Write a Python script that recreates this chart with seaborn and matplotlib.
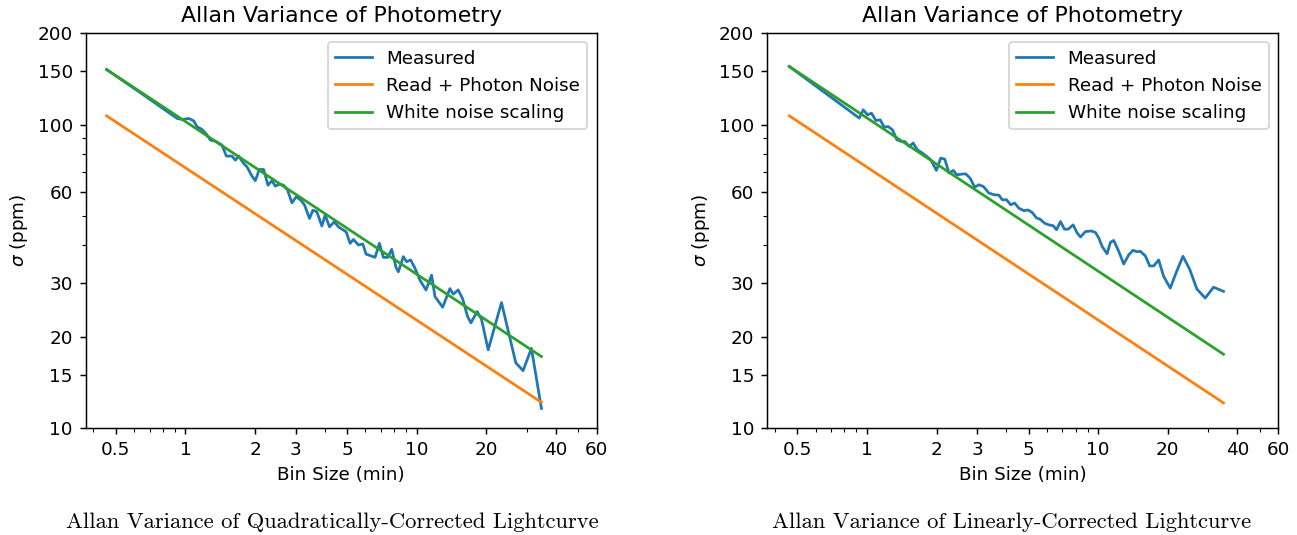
import numpy as np
import pandas as pd
import seaborn as sns
import matplotlib.pyplot as plt
from matplotlib.ticker import FixedLocator, FuncFormatter, NullFormatter

# bin sizes (min) and measured sigma (ppm), quadratic correction
quad_bins = [0.456, 0.639, 0.921, 0.967, 1.034, 1.086, 1.123, 1.180, 1.232, 1.282,
             1.347, 1.440, 1.503, 1.590, 1.644, 1.699, 1.785, 1.845, 1.940, 2.005,
             2.086, 2.178, 2.275, 2.366, 2.446, 2.554, 2.657, 2.765, 2.887, 3.014,
             3.157, 3.273, 3.440, 3.556, 3.700, 3.889, 4.020, 4.197, 4.397, 4.590,
             4.954, 5.154, 5.328, 5.600, 5.846, 6.043, 6.607, 6.898, 7.178, 7.494,
             7.798, 8.141, 8.331, 8.756, 9.051, 9.419, 9.833, 10.33, 10.97, 11.60,
             12.00, 12.95, 13.92, 14.39, 15.12, 15.79, 16.60, 17.16, 18.27, 19.07,
             20.38, 23.27, 26.83, 28.85, 31.35, 34.63]
quad_sigma = [151.8, 127.2, 104.7, 103.9, 104.7, 102.8, 98.3, 96.3, 93.0, 88.8,
              88.2, 85.5, 78.7, 78.7, 76.3, 78.7, 74.4, 72.6, 67.6, 65.3,
              71.1, 71.1, 63.1, 65.3, 62.7, 63.6, 63.1, 60.8, 55.2, 57.8,
              56.3, 54.3, 49.0, 52.2, 51.6, 46.3, 50.3, 46.0, 47.8, 46.0,
              44.3, 40.6, 41.8, 40.1, 40.4, 37.4, 36.5, 40.6, 36.5, 36.5,
              38.8, 33.8, 32.7, 36.7, 35.3, 35.8, 33.6, 30.7, 28.5, 31.9,
              27.1, 25.0, 28.8, 27.6, 28.5, 26.7, 23.3, 22.2, 24.2, 22.8,
              18.1, 25.9, 16.4, 15.45, 18.3, 11.6]

# linear correction
lin_bins = [0.462, 0.927, 0.964, 1.007, 1.047, 1.093, 1.142, 1.188, 1.236, 1.291,
            1.347, 1.411, 1.459, 1.523, 1.585, 1.654, 1.739, 1.815, 1.889, 1.998,
            2.086, 2.171, 2.266, 2.366, 2.446, 2.562, 2.675, 2.793, 2.925, 3.053,
            3.188, 3.373, 3.544, 3.725, 3.851, 4.020, 4.183, 4.353, 4.545, 4.775,
            4.969, 5.188, 5.416, 5.600, 5.866, 6.124, 6.394, 6.607, 6.876, 7.154,
            7.420, 7.798, 8.115, 8.388, 8.814, 9.325, 9.736, 10.06, 10.40, 10.93,
            11.30, 11.68, 12.28, 12.90, 13.56, 14.16, 14.73, 15.23, 16.00, 16.71,
            17.39, 18.27, 19.20, 20.51, 21.78, 23.27, 24.86, 26.74, 29.05, 31.55,
            34.85]
lin_sigma = [155.3, 105.0, 111.8, 107.6, 109.0, 103.1, 103.6, 98.0, 98.5, 96.0,
             89.1, 87.9, 87.9, 84.7, 86.9, 82.5, 80.5, 78.5, 76.5, 70.6,
             77.5, 76.9, 69.2, 70.6, 68.3, 68.6, 68.8, 66.6, 62.2, 63.3,
             62.5, 59.4, 58.7, 58.5, 56.5, 56.5, 54.4, 55.1, 53.0, 52.0,
             52.3, 51.3, 49.2, 48.8, 47.3, 46.7, 46.4, 45.0, 47.9, 45.2,
             45.2, 46.7, 43.9, 42.6, 44.4, 44.6, 44.1, 42.3, 39.7, 37.5,
             40.9, 41.5, 38.2, 34.7, 37.2, 38.5, 38.1, 38.2, 36.9, 34.2,
             34.2, 35.8, 31.6, 28.9, 32.6, 36.8, 33.4, 28.7, 26.8, 29.1,
             28.2]

# model lines (end points)
quad_model_bins = [0.456, 34.63]
quad_photon = [106.8, 12.15]
quad_white = [151.8, 17.2]
lin_model_bins = [0.462, 34.85]
lin_photon = [106.8, 12.1]
lin_white = [155.3, 17.5]

captions = ["Allan Variance of Quadratically-Corrected Lightcurve",
            "Allan Variance of Linearly-Corrected Lightcurve"]
x_ticks = [0.5, 1, 2, 3, 5, 10, 20, 40, 60]
y_ticks = [10, 15, 20, 30, 60, 100, 150, 200]

panels = [
    (quad_bins, quad_sigma, quad_model_bins, quad_photon, quad_white),
    (lin_bins, lin_sigma, lin_model_bins, lin_photon, lin_white),
]

dpi = 132
fig = plt.figure(figsize=(1297 / dpi, 535 / dpi), dpi=dpi)
lefts = [0.066, 0.5914]
caption_x = [0.256, 0.780]
plain = FuncFormatter(lambda v, pos: "{:g}".format(v))

for i, (bins, sigma, mbins, photon, white) in enumerate(panels):
    ax = fig.add_axes([lefts[i], 0.2, 0.394, 0.738])
    meas = pd.DataFrame({"bin": bins, "sigma": sigma})
    sns.lineplot(data=meas, x="bin", y="sigma", ax=ax, color="C0",
                 estimator=None, label="Measured")
    sns.lineplot(x=mbins, y=photon, ax=ax, color="C1", label="Read + Photon Noise")
    sns.lineplot(x=mbins, y=white, ax=ax, color="C2", label="White noise scaling")
    ax.set_xscale("log")
    ax.set_yscale("log")
    ax.set_xlim(0.37, 60)
    ax.set_ylim(10, 200)
    ax.xaxis.set_major_locator(FixedLocator(x_ticks))
    ax.yaxis.set_major_locator(FixedLocator(y_ticks))
    ax.xaxis.set_major_formatter(plain)
    ax.yaxis.set_major_formatter(plain)
    ax.xaxis.set_minor_formatter(NullFormatter())
    ax.yaxis.set_minor_formatter(NullFormatter())
    ax.set_title("Allan Variance of Photometry", fontsize=12)
    ax.set_xlabel("Bin Size (min)")
    ax.set_ylabel(r"$\sigma$ (ppm)")
    ax.legend(loc="upper right")
    fig.text(caption_x[i], 0.013, captions[i], ha="center", va="baseline",
             family="cmr10", fontsize=12.3)

plt.savefig("out.png", dpi=dpi)
